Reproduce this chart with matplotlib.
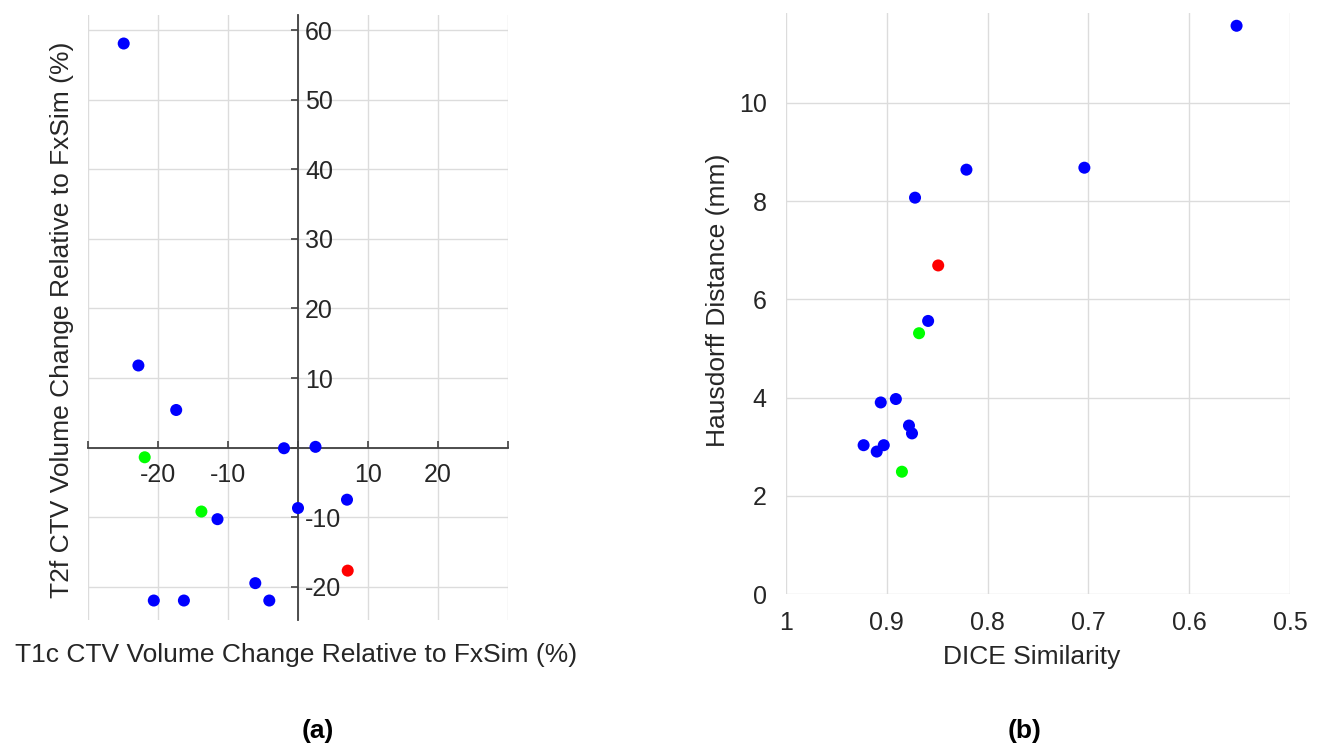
import matplotlib
matplotlib.use("Agg")
import matplotlib.pyplot as plt

plt.rcParams["font.family"] = ["Liberation Sans", "DejaVu Sans"]

# (a) volume change: T1c vs T2f relative to FxSim (%)
t1c_change = [-24.9, -22.8, -17.4, -21.9, -2.0, 2.5, 7.0, 0.0, -13.8, -11.5, 7.1, -6.1, -4.1, -20.6, -16.3]
t2f_change = [58.1, 11.8, 5.4, -1.4, -0.1, 0.1, -7.5, -8.7, -9.2, -10.3, -17.7, -19.5, -22.0, -22.0, -22.0]

# (b) DICE similarity vs Hausdorff distance (mm)
dice = [0.553, 0.821, 0.704, 0.872, 0.849, 0.859, 0.868, 0.891, 0.906, 0.878, 0.875, 0.923, 0.903, 0.910, 0.885]
hausdorff = [11.57, 8.64, 8.68, 8.07, 6.69, 5.56, 5.31, 3.97, 3.90, 3.43, 3.27, 3.03, 3.03, 2.90, 2.49]

point_colors = ["blue", "blue", "blue", "lime", "blue", "blue", "blue", "blue",
                "lime", "blue", "red", "blue", "blue", "blue", "blue"]
colors_b = ["blue", "blue", "blue", "blue", "red", "blue", "lime", "blue",
            "blue", "blue", "blue", "blue", "blue", "blue", "lime"]

grid_color = "#dcdcdc"
text_color = "#262626"
tick_size = 18
label_size = 19

fig = plt.figure(figsize=(13.18, 7.44), dpi=100)

# ---- panel (a) ----
ax1 = fig.add_axes([88 / 1318, 1 - 620 / 744, 420 / 1318, 605 / 744])
ax1.set_xlim(-30, 30)
ax1.set_ylim(-24.8, 62.2)
ax1.set_xticks(range(-30, 31, 10))
ax1.set_yticks(range(-20, 61, 10))
ax1.set_xticklabels(["" if v in (-30, 0, 30) else str(v) for v in range(-30, 31, 10)])
ax1.set_yticklabels(["" if v == 0 else str(v) for v in range(-20, 61, 10)])
ax1.grid(True, color=grid_color, linewidth=1.0)
ax1.set_axisbelow(True)

ax1.spines["top"].set_visible(False)
ax1.spines["left"].set_visible(False)
ax1.spines["right"].set_position(("data", 0))
ax1.spines["bottom"].set_position(("data", 0))
for side in ("right", "bottom"):
    ax1.spines[side].set_color("#404040")
    ax1.spines[side].set_linewidth(1.3)
ax1.yaxis.set_ticks_position("right")
ax1.xaxis.set_ticks_position("bottom")
ax1.tick_params(direction="in", length=5, width=1.2, color="#404040",
                labelsize=tick_size, labelcolor=text_color)
ax1.tick_params(axis="x", pad=11)
ax1.tick_params(axis="y", pad=5)

ax1.scatter(t1c_change, t2f_change, c=point_colors, s=75, edgecolors="none", zorder=3, clip_on=False)

fig.text(62 / 1318, 1 - 320 / 744, "T2f CTV Volume Change Relative to FxSim (%)",
         rotation=90, ha="center", va="center", fontsize=label_size, color=text_color)
fig.text(296 / 1318, 1 - 655 / 744, "T1c CTV Volume Change Relative to FxSim (%)",
         ha="center", va="center", fontsize=label_size, color=text_color)
fig.text(318 / 1318, 1 - 731 / 744, "(a)", ha="center", va="center",
         fontsize=label_size, fontweight="bold", color="black")

# ---- panel (b) ----
ax2 = fig.add_axes([786 / 1318, 1 - 594 / 744, 504 / 1318, 581 / 744])
ax2.set_xlim(1, 0.5)
ax2.set_ylim(0, 11.83)
ax2.set_xticks([1, 0.9, 0.8, 0.7, 0.6, 0.5])
ax2.set_xticklabels(["1", "0.9", "0.8", "0.7", "0.6", "0.5"])
ax2.set_yticks(range(0, 11, 2))
ax2.grid(True, color=grid_color, linewidth=1.0)
ax2.set_axisbelow(True)
for side in ax2.spines:
    ax2.spines[side].set_visible(False)
ax2.tick_params(length=0, labelsize=tick_size, labelcolor=text_color)
ax2.tick_params(axis="x", pad=12)
ax2.tick_params(axis="y", pad=14)

ax2.scatter(dice, hausdorff, c=colors_b, s=75, edgecolors="none", zorder=3, clip_on=False)

fig.text(718 / 1318, 1 - 300 / 744, "Hausdorff Distance (mm)",
         rotation=90, ha="center", va="center", fontsize=label_size, color=text_color)
fig.text(1032 / 1318, 1 - 657 / 744, "DICE Similarity",
         ha="center", va="center", fontsize=label_size, color=text_color)
fig.text(1025 / 1318, 1 - 731 / 744, "(b)", ha="center", va="center",
         fontsize=label_size, fontweight="bold", color="black")

fig.savefig("out.png", dpi=100, facecolor="white")
